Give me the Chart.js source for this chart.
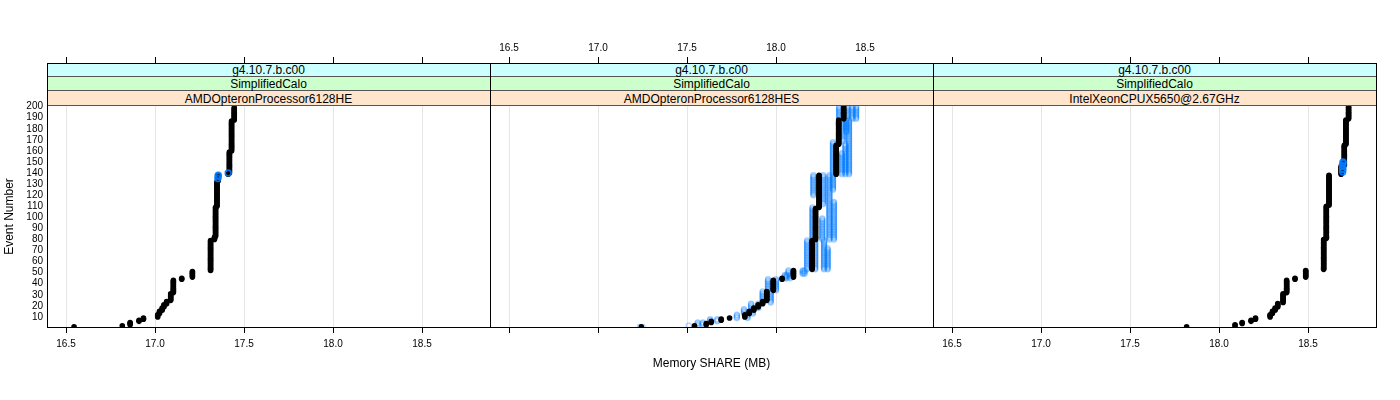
<!DOCTYPE html>
<html>
<head>
<meta charset="utf-8">
<script src="https://cdn.jsdelivr.net/npm/chart.js@4/dist/chart.umd.min.js"></script>
<style>
  html, body { margin:0; padding:0; background:#fff; }
  #wrap { position:relative; width:1400px; height:400px; overflow:hidden; font-family:"Liberation Sans", Arial, sans-serif; }
  canvas { position:absolute; left:0; top:0; }
  .strip { position:absolute; box-sizing:border-box; border-bottom:1px solid #555; font-size:12px; text-align:center; color:#000; white-space:nowrap; }
  .frame { position:absolute; box-sizing:border-box; border:1px solid #000; pointer-events:none; }
</style>
</head>
<body>
<div id="wrap">
  <canvas id="c1" width="1400" height="400"></canvas>
  <canvas id="c2" width="1400" height="400"></canvas>
  <canvas id="c3" width="1400" height="400"></canvas>
</div>
<script>
// ---------------- DATA ----------------
// x tick labels (Memory SHARE, MB) and y tick labels (event number)
const xTicks = [16.5, 17.0, 17.5, 18.0, 18.5];
const yTicks = [10,20,30,40,50,60,70,80,90,100,110,120,130,140,150,160,170,180,190,200];

// strip labels per panel (top to bottom)
const stripTop = ["g4.10.7.b.c00", "g4.10.7.b.c00", "g4.10.7.b.c00"];
const stripMid = ["SimplifiedCalo", "SimplifiedCalo", "SimplifiedCalo"];
const stripBot = ["AMDOpteronProcessor6128HE", "AMDOpteronProcessor6128HES", "IntelXeonCPUX5650@2.67GHz"];

// Each series: runs of [memory value (MB), number of consecutive events], events 1..200 in order.
// null = no point for those events.
const p1Black = [[16.545,1],[16.816,1],[16.86,3],[16.91,2],[16.935,2],[17.015,3],[17.025,3],[17.04,3],[17.05,3],[17.065,3],
  [17.088,7],[17.103,12],[17.15,2],[17.21,6],[17.312,28],[17.334,3],[17.340,27],[17.348,23],[17.355,6],[17.411,1],
  [17.418,20],[17.43,28],[17.445,12]];
const p1Blue = [[null,134],[17.353,1],[null,1],[17.355,2],[null,1],[17.411,1],[null,60]];

const p2Black = [[17.243,1],[17.542,1],[17.608,2],[17.636,2],[17.692,2],[17.739,1],[17.825,3],[17.85,3],[17.875,3],[17.90,3],
  [17.925,3],[17.948,9],[17.985,10],[18.034,2],[18.098,7],[18.203,27],[18.222,29],[18.242,30],[18.338,27],[18.352,23],[18.38,12]];
const p2BlueA = [[17.235,1],[17.51,1],[17.56,3],[17.63,3],[17.78,4],[17.82,5],[17.86,5],[17.925,11],[17.955,11],[18.05,4],[18.07,4],
  [18.175,27],[18.205,30],[null,10],[18.21,19],[18.32,30],[null,20],[18.355,12]];
const p2BlueB = [[17.25,1],[17.56,1],[17.59,3],[17.67,3],[17.84,4],[17.87,5],[17.90,5],[17.97,11],[18.00,11],[18.08,4],[18.15,4],
  [18.22,27],[18.26,20],[null,12],[18.265,27],[18.37,20],[null,10],[18.375,20],[18.40,12]];
const p2BlueC = [[null,44],[18.06,4],[18.16,4],
  [18.27,27],[18.30,59],[18.39,28],[null,10],[18.395,12],[18.43,12]];
const p2BlueD = [[null,52],
  [18.29,20],[null,7],[18.325,35],[null,10],[18.32,14],[18.41,50],[18.45,12]];

const p3Black = [[17.818,1],[18.09,2],[18.13,2],[18.18,2],[18.205,2],[18.287,3],[18.30,3],[18.315,3],[18.33,4],[18.36,9],
  [18.38,12],[18.427,2],[18.487,7],[18.588,28],[18.603,30],[18.618,28],[18.686,8],[18.704,19],[18.713,23],[18.728,12]];
const p3Blue = [[null,140],[18.695,1],[null,1],[18.695,2],[null,1],[18.695,2],[null,1],[18.697,2],[null,51]];

// ---------------- helpers ----------------
function expand(runs) {
  const out = []; let ev = 1;
  for (const [x, n] of runs) {
    for (let k = 0; k < n; k++) { if (x !== null) out.push({x: x, y: ev}); ev++; }
  }
  return out;
}

const FONT = '"Liberation Sans", Arial, sans-serif';
const X_MIN = 16.393, X_MAX = 18.882, Y_MIN = 0.9, Y_MAX = 200.6;
const PANELS = [[47, 490], [490, 933], [933, 1376]];
const PLOT_TOP = 106, PLOT_BOTTOM = 327, STRIP_TOP = 63;

function blackSet(runs) {
  return { data: expand(runs), pointRadius: 2.8, pointHoverRadius: 2.8, pointBackgroundColor: '#000',
           pointBorderColor: '#000', pointBorderWidth: 0, showLine: false };
}
function blueSet(runs, alpha, bw, r) {
  return { data: expand(runs), pointRadius: r, pointHoverRadius: r, pointBackgroundColor: 'rgba(0,0,0,0)',
           pointBorderColor: 'rgba(0,122,255,' + alpha + ')', pointBorderWidth: bw, showLine: false };
}

function makePanel(id, idx, datasets) {
  const [L, R] = PANELS[idx];
  const first = idx === 0;
  const middle = idx === 1;
  new Chart(document.getElementById(id), {
    type: 'scatter',
    data: { datasets: datasets },
    options: {
      responsive: false, animation: false, devicePixelRatio: 1,
      events: [],
      layout: { padding: { left: first ? 0 : L, right: 1400 - R, top: 0, bottom: 25 } },
      plugins: { legend: { display: false }, tooltip: { enabled: false } },
      scales: {
        x: {
          type: 'linear', position: 'bottom', min: X_MIN, max: X_MAX,
          afterBuildTicks: s => { s.ticks = xTicks.map(v => ({ value: v })); },
          afterFit: s => { s.height = 48; },
          ticks: { display: !middle, callback: v => Number(v).toFixed(1), color: '#000', font: { family: FONT, size: 10 }, padding: 5, maxRotation: 0, autoSkip: false },
          grid: { display: true, drawOnChartArea: true, color: '#e6e6e6', lineWidth: 1, drawTicks: true, tickLength: 6, tickColor: '#000' },
          border: { display: false },
          title: { display: middle, text: 'Memory SHARE (MB)', color: '#000', font: { family: FONT, size: 12 }, padding: { top: 4, bottom: 4 } }
        },
        x2: {
          type: 'linear', position: 'top', min: X_MIN, max: X_MAX,
          afterBuildTicks: s => { s.ticks = xTicks.map(v => ({ value: v })); },
          afterFit: s => { s.height = 106; },
          ticks: { display: middle, callback: v => Number(v).toFixed(1), color: '#000', font: { family: FONT, size: 10 }, padding: 3, maxRotation: 0, autoSkip: false },
          grid: { display: true, drawOnChartArea: false, drawTicks: true, tickLength: 49, tickColor: '#000' },
          border: { display: false }
        },
        y: {
          type: 'linear', position: 'left', min: Y_MIN, max: Y_MAX, display: first,
          afterBuildTicks: s => { s.ticks = yTicks.map(v => ({ value: v })); },
          afterFit: s => { s.width = first ? 47 : 0; },
          ticks: { display: true, color: '#000', font: { family: FONT, size: 10 }, padding: 4, autoSkip: false },
          grid: { display: false, drawTicks: false },
          border: { display: false },
          title: { display: true, text: 'Event Number', color: '#000', font: { family: FONT, size: 12 }, padding: { top: 2, bottom: 4 } }
        }
      }
    }
  });
}

makePanel('c1', 0, [blueSet(p1Blue, 0.9, 1.6, 2.9), blackSet(p1Black)]);
makePanel('c2', 1, [blackSet(p2Black), blueSet(p2BlueA, 0.35, 1.2, 2.6), blueSet(p2BlueB, 0.35, 1.2, 2.6),
                    blueSet(p2BlueC, 0.35, 1.2, 2.6), blueSet(p2BlueD, 0.35, 1.2, 2.6)]);
makePanel('c3', 2, [blueSet(p3Blue, 0.9, 1.6, 2.9), blackSet(p3Black)]);

// strips and frames (HTML, text kept as real text)
const wrap = document.getElementById('wrap');
const stripColors = ['#ccffff', '#ccffcc', '#ffe5cc'];
const stripTexts = [stripTop, stripMid, stripBot];
const stripRows = [[63, 14], [77, 14], [91, 15]];
PANELS.forEach(([L, R], i) => {
  for (let r = 0; r < 3; r++) {
    const d = document.createElement('div');
    d.className = 'strip';
    d.style.left = L + 'px'; d.style.top = stripRows[r][0] + 'px';
    d.style.width = (R - L) + 'px'; d.style.height = stripRows[r][1] + 'px';
    d.style.background = stripColors[r];
    d.style.lineHeight = (stripRows[r][1] + 1) + 'px';
    d.textContent = stripTexts[r][i];
    wrap.appendChild(d);
  }
  const f = document.createElement('div');
  f.className = 'frame';
  f.style.left = L + 'px'; f.style.top = STRIP_TOP + 'px';
  f.style.width = (R - L + 1) + 'px'; f.style.height = (PLOT_BOTTOM - STRIP_TOP + 1) + 'px';
  wrap.appendChild(f);
});
</script>
</body>
</html>
